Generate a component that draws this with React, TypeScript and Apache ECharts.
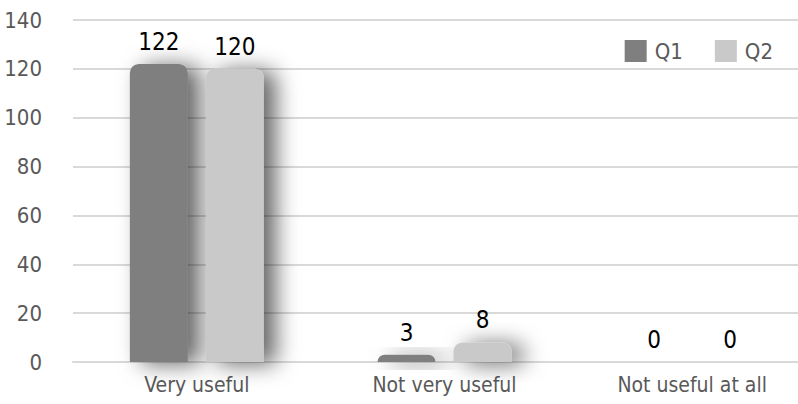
import React, { useEffect, useRef } from "react";
import * as echarts from "echarts";

const categories = ["Very useful", "Not very useful", "Not useful at all"];
const q1Values = [122, 3, 0];
const q2Values = [120, 8, 0];
const seriesNames = ["Q1", "Q2"];

const FONT = "'DejaVu Sans Condensed', 'Liberation Sans Narrow', 'Noto Sans', sans-serif";

// The plot area runs a little past the right edge, so the chart canvas is
// wider than the visible frame and the overflow is clipped.
const FRAME_W = 798;
const CHART_W = 816;
const H = 404;

export default function App() {
  const ref = useRef<HTMLDivElement>(null);

  useEffect(() => {
    if (!ref.current) return;
    const chart = echarts.init(ref.current, null, { renderer: "svg" });

    const barStyle = (color: string) => ({
      color,
      borderRadius: [9, 9, 0, 0],
      shadowBlur: 22,
      shadowOffsetX: 12,
      shadowOffsetY: 2,
      shadowColor: "rgba(0,0,0,0.6)",
    });

    const label = {
      show: true,
      position: "top" as const,
      distance: 10,
      color: "#000",
      fontSize: 24,
      fontFamily: FONT,
    };

    chart.setOption({
      animation: false,
      backgroundColor: "#fff",
      textStyle: { fontFamily: FONT },
      grid: { left: 73, right: 0, top: 20, bottom: 42, containLabel: false },
      legend: {
        right: 20 + (CHART_W - FRAME_W),
        top: 35,
        icon: "rect",
        itemWidth: 22,
        itemHeight: 22,
        itemGap: 32,
        textStyle: { fontSize: 22, color: "#595959", fontFamily: FONT, padding: [0, 0, 0, 3] },
        data: seriesNames,
      },
      xAxis: {
        type: "category",
        data: categories,
        axisLine: { show: true, lineStyle: { color: "#d9d9d9", width: 2 } },
        axisTick: { show: false },
        axisLabel: { fontSize: 21, color: "#595959", margin: 12, fontFamily: FONT },
      },
      yAxis: {
        type: "value",
        min: 0,
        max: 140,
        interval: 20,
        axisLine: { show: false },
        axisTick: { show: false },
        splitLine: { lineStyle: { color: "#d9d9d9", width: 2 } },
        axisLabel: { fontSize: 22, color: "#595959", margin: 31, fontFamily: FONT },
      },
      series: [
        {
          name: seriesNames[0],
          type: "bar",
          data: q1Values,
          barWidth: 58,
          barGap: "31%",
          itemStyle: barStyle("#7f7f7f"),
          label,
        },
        {
          name: seriesNames[1],
          type: "bar",
          data: q2Values,
          barWidth: 58,
          barGap: "31%",
          itemStyle: barStyle("#c9c9c9"),
          label,
        },
      ],
    });

    return () => chart.dispose();
  }, []);

  return (
    <div
      style={{
        position: "fixed",
        left: 0,
        top: 0,
        width: FRAME_W,
        height: H,
        overflow: "hidden",
      }}
    >
      <div ref={ref} style={{ width: CHART_W, height: H }} />
    </div>
  );
}
